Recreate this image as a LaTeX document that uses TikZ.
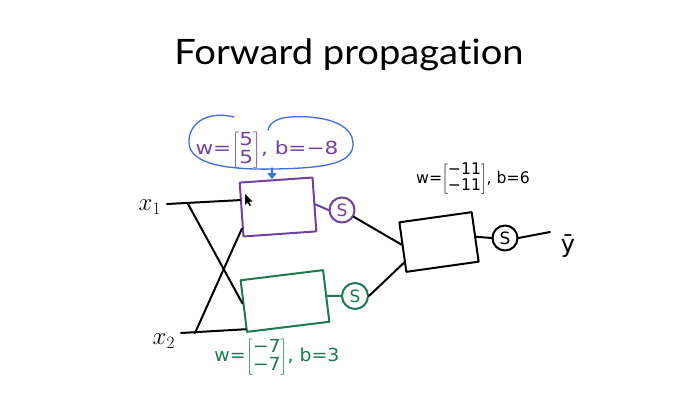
\documentclass[tikz,border=0pt]{standalone}
\usepackage{fontspec}
\setmainfont{Lato}[Ligatures=NoCommon]
\newfontfamily\hand{DejaVu Sans}
\usetikzlibrary{arrows.meta,calc}
\definecolor{npurple}{RGB}{112,66,160}
\definecolor{ngreen}{RGB}{30,120,80}
\definecolor{nblue}{RGB}{60,110,220}
\newcommand\wlab[3]{\scalebox{#3}[1]{w=$\left[\begin{tabular}{@{}c@{}}#1\end{tabular}\right]$, b=#2}}
\begin{document}
\begin{tikzpicture}[x=1pt,y=-1pt, line width=2pt, line cap=round, line join=round,
  box/.style={draw, inner sep=0pt},
  sig/.style={draw, circle, inner sep=0pt, font=\hand\fontsize{17}{17}\selectfont},
  lab/.style={font=\hand\fontsize{18}{16}\selectfont, inner sep=1pt},
  xin/.style={font=\fontsize{27}{27}\selectfont, inner sep=1pt}]
\useasboundingbox (0,0) rectangle (693,409);
\fill[white] (0,0) rectangle (693,409);

% title
\node[font=\fontsize{35}{40}\selectfont] (title) at (349,55) {\scalebox{1.09}[1]{Forward propagation}};

% boxes
\node[box, draw=npurple, minimum width=73pt, minimum height=54pt, rotate=4] (h1) at (278,207) {};
\node[box, draw=ngreen, minimum width=83pt, minimum height=52pt, rotate=7] (h2) at (285,301) {};
\node[box, minimum width=73pt, minimum height=50pt, rotate=8] (o) at (439,242) {};

% sigmoid circles
\node[sig, draw=npurple, text=npurple, minimum size=25pt] (s1) at (342,210) {S};
\node[sig, draw=ngreen, text=ngreen, minimum size=26pt] (s2) at (355,296) {S};
\node[sig, minimum size=25pt] (s3) at (505,238) {S};

% inputs
\node[xin, anchor=east] (x1) at (163,207) {$x_1$};
\node[xin, anchor=east] (x2) at (177,341) {$x_2$};
\coordinate (j1) at (188,204);
\coordinate (j2) at (195,333);
\draw ([xshift=4pt]x1.east |- j1) -- ($(h1.north west)!0.33!(h1.south west)$);
\draw (j1) -- ($(h2.north west)!0.45!(h2.south west)$);
\draw ([xshift=4pt]x2.east |- j2) -- ($(h2.north west)!0.93!(h2.south west)$);
\draw (j2) -- ($(h1.north west)!0.84!(h1.south west)$);

% box to sigmoid
\draw[npurple] (h1.east) -- (s1.west);
\draw[ngreen] (h2.east) -- (s2.west);
\draw (o.east) -- (s3.west);

% sigmoid to output
\draw (s1.-30) -- ($(o.north west)!0.45!(o.south west)$);
\draw (s2.east) -- ($(o.north west)!0.8!(o.south west)$);

% output
\node[font=\hand\fontsize{24}{24}\selectfont, inner sep=1pt] (y) at (568,246) {ȳ};
\coordinate (yend) at (550,232);
\draw (s3.east) -- (yend);

% labels
\node[lab, text=npurple] (L1) at (267,150) {\wlab{5\\5}{−8}{1.2}};
\node[lab, text=ngreen] (L2) at (277,357) {\wlab{−7\\−7}{3}{1.05}};
\node[lab, font=\hand\fontsize{16}{15}\selectfont] (L3) at (473,179) {\wlab{−11\\−11}{6}{0.98}};

% blue annotation loop and arrow
\draw[nblue, line width=1.3pt] (234,117) .. controls (205,110) and (188,125) .. (189,143)
  .. controls (190,165) and (230,170) .. (275,169)
  .. controls (320,168) and (352,165) .. (353,145)
  .. controls (354,122) and (320,115) .. (290,117)
  .. controls (278,118) and (270,122) .. (268,130);
\coordinate (loopb) at (272,168);
\draw[nblue, line width=1.3pt, -{Triangle[width=9pt,length=6pt]}] (loopb) -- (loopb |- h1.north);

% mouse cursor
\fill[black] (245,194) -- (245,205) -- (247.5,202.5) -- (249.5,206) -- (251,205.3) -- (249,201.8) -- (252.5,201.5) -- cycle;
\end{tikzpicture}
\end{document}
